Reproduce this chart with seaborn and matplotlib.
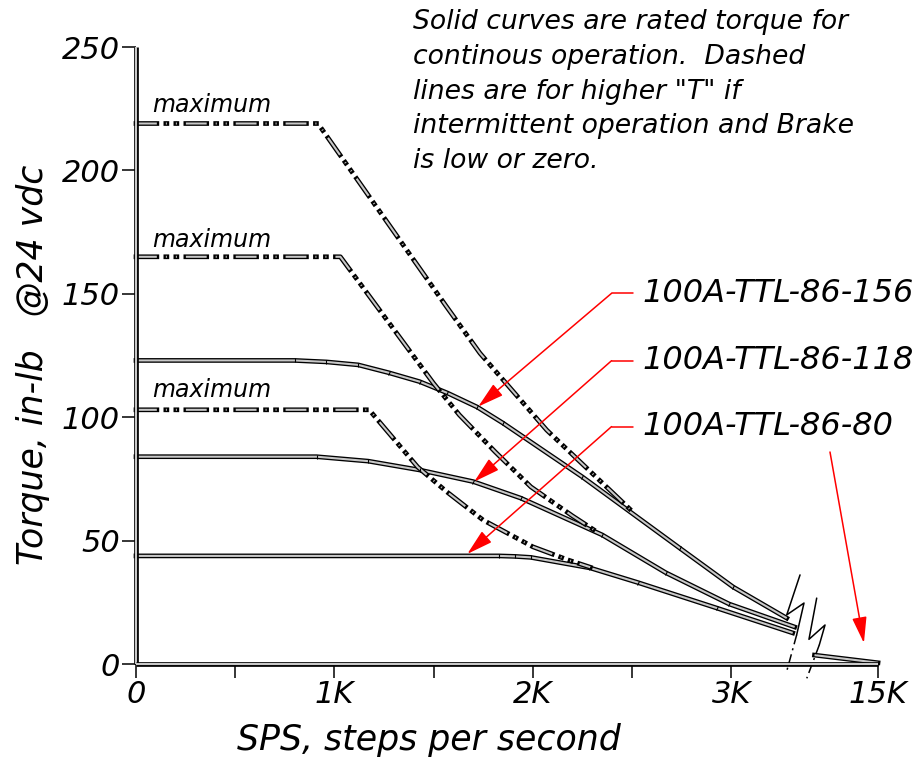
import numpy as np
import pandas as pd
import matplotlib
matplotlib.use('Agg')
import matplotlib.pyplot as plt
import matplotlib.patheffects as pe
from matplotlib.markers import MarkerStyle
from matplotlib.transforms import Affine2D
import seaborn as sns

# speed in thousands of steps per second, torque in in-lb
# solid curves: rated torque, continuous operation
SPS_156 = [0, 0.80, 0.96, 1.12, 1.275, 1.43, 1.57, 1.72, 1.85, 2.25, 2.74, 3.01, 3.28]
TQ_156 = [123, 123, 122.4, 121.2, 118, 114.4, 109.8, 104.1, 97.6, 75.8, 47, 31.2, 18.6]
SPS_118 = [0, 0.91, 1.17, 1.43, 1.70, 1.94, 2.35, 2.67, 2.99, 3.32]
TQ_118 = [84, 84, 82.2, 78.6, 73.9, 67.2, 52.3, 37, 24.3, 15]
SPS_80 = [0, 1.83, 1.91, 1.99, 2.29, 2.53, 2.93, 3.31]
TQ_80 = [43.8, 43.8, 43.6, 43.2, 38.9, 33, 22.6, 12.6]

# dashed curves: "maximum" torque, intermittent operation
SPS_156_MAX = [0, 0.917, 1.565, 1.734, 2.07, 2.52]
TQ_156_MAX = [219, 219, 144.8, 125.9, 94.8, 60.4]
SPS_118_MAX = [0, 1.03, 1.50, 1.63, 1.81, 1.99, 2.20, 2.33]
TQ_118_MAX = [165, 165, 113.7, 100.9, 86, 71.8, 60, 53.2]
SPS_80_MAX = [0, 1.175, 1.42, 1.566, 1.75, 2.0, 2.18, 2.29]
TQ_80_MAX = [103, 103, 79.8, 69.8, 58.3, 47.5, 42.1, 39.2]

# tail after the axis break, running out to 15K
SPS_TAIL = [3.42, 3.74]
TQ_TAIL = [3.6, 0.5]

MODELS = ['100A-TTL-86-156', '100A-TTL-86-118', '100A-TTL-86-80']
ARROW_TIPS = [(1.725, 104.3), (1.705, 73.9), (1.670, 44.6)]
LABEL_Y = [150.2, 122.9, 96.2]
MAX_LABEL_Y = [226.5, 172, 111]

XTICKS = [0, 1, 2, 3, 3.74]
XTICK_LABELS = ['0', '1K', '2K', '3K', '15K']
XMINOR = [0.5, 1.5, 2.5]
YTICKS = [0, 50, 100, 150, 200, 250]

rows = []
for model, xs, ys in zip(MODELS, [SPS_156, SPS_118, SPS_80], [TQ_156, TQ_118, TQ_80]):
    rows += [(model, 'rated', x, y) for x, y in zip(xs, ys)]
for model, xs, ys in zip(MODELS, [SPS_156_MAX, SPS_118_MAX, SPS_80_MAX],
                         [TQ_156_MAX, TQ_118_MAX, TQ_80_MAX]):
    rows += [(model, 'max', x, y) for x, y in zip(xs, ys)]
rows += [('tail', 'rated', x, y) for x, y in zip(SPS_TAIL, TQ_TAIL)]
df = pd.DataFrame(rows, columns=['model', 'kind', 'sps', 'torque'])

sns.set_theme(style='white')
plt.rcParams['font.family'] = ['DejaVu Sans']
plt.rcParams['font.style'] = 'italic'
plt.rcParams['text.color'] = 'black'
plt.rcParams['lines.scale_dashes'] = False

INNER = '#c8c8c8'
DASH = (0, (15, 6.5, 0.7, 6.5, 0.7, 6.5))
outline = [pe.Stroke(linewidth=3.4, foreground='black', capstyle='projecting'), pe.Normal()]

fig = plt.figure(figsize=(9.15, 7.62), dpi=100)
ax = fig.add_axes([136 / 915, 1 - 664 / 762, 742 / 915, 617 / 762])
ax.set_xlim(0, 3.74)
ax.set_ylim(0, 250)

solid_lines = []
for (model, kind), grp in df.groupby(['model', 'kind'], sort=False):
    sns.lineplot(data=grp, x='sps', y='torque', sort=False, estimator=None,
                 color=INNER, lw=1.5, legend=False, ax=ax)
    line = ax.lines[-1]
    line.set_clip_on(False)
    line.set_solid_capstyle('butt')
    line.set_dash_capstyle('butt')
    if kind == 'max':
        line.set_linestyle(DASH)
    else:
        solid_lines.append(grp)
    line.set_path_effects(outline)

# little node marks along the solid curves
for grp in solid_lines:
    pts = ax.transData.transform(grp[['sps', 'torque']].to_numpy())
    for i in range(1, len(pts) - 1):
        d = pts[i + 1] - pts[i - 1]
        ang = np.degrees(np.arctan2(d[1], d[0]))
        m = MarkerStyle('|', transform=Affine2D().rotate_deg(ang))
        ax.plot(grp['sps'].iloc[i], grp['torque'].iloc[i], marker=m, ms=3.2,
                mew=0.8, color='black', clip_on=False, zorder=3)

# axis break marks
brk_kw = dict(color='black', lw=1.1, clip_on=False)
ax.plot([3.347, 3.280, 3.367, 3.330], [36.1, 19.9, 24.7, 11.8], **brk_kw)
ax.plot([3.330, 3.279], [11.8, -3.2], ls=(0, (7, 3, 1.5, 3)), **brk_kw)
ax.plot([3.431, 3.392, 3.473, 3.444], [26.7, 10.0, 15.8, 7.7], **brk_kw)
ax.plot([3.444, 3.381], [7.7, -5.8], ls=(0, (7, 3, 1.5, 3)), **brk_kw)

# "maximum" labels over the dashed curves
for y in MAX_LABEL_Y:
    ax.text(0.08, y, 'maximum', fontsize=17, ha='left', va='center')

# red call-outs for each motor
red = '#ff0000'
head = '-|>,head_length=1.0,head_width=0.28'
for model, (tx, ty), ly in zip(MODELS, ARROW_TIPS, LABEL_Y):
    ax.plot([2.397, 2.506], [ly, ly], color=red, lw=1.1)
    ax.annotate('', xy=(tx, ty), xytext=(2.397, ly),
                arrowprops=dict(arrowstyle=head, mutation_scale=16, color=red,
                                lw=1.1, shrinkA=0, shrinkB=0))
    ax.text(2.555, ly, model, fontsize=23, ha='left', va='center')
ax.annotate('', xy=(3.669, 8.5), xytext=(3.498, 85.9),
            arrowprops=dict(arrowstyle=head, mutation_scale=16, color=red,
                            lw=1.1, shrinkA=0, shrinkB=0), annotation_clip=False)

fig.text(413 / 915, 1 - 9 / 762,
         'Solid curves are rated torque for\n'
         'continous operation.  Dashed\n'
         'lines are for higher "T" if\n'
         'intermittent operation and Brake\n'
         'is low or zero.',
         fontsize=19.2, ha='left', va='top', linespacing=1.44)

# axes drawn as double lines
for side in ['top', 'right']:
    ax.spines[side].set_visible(False)
for side in ['left', 'bottom']:
    sp = ax.spines[side]
    sp.set_color(INNER)
    sp.set_linewidth(1.5)
    sp.set_capstyle('butt')
    sp.set_path_effects([pe.Stroke(linewidth=3.4, foreground='black'), pe.Normal()])

ax.set_xticks(XTICKS)
ax.set_xticklabels(XTICK_LABELS)
ax.set_xticks(XMINOR, minor=True)
ax.set_yticks(YTICKS)
ax.set_yticklabels([str(v) for v in YTICKS])
ax.tick_params(axis='both', which='both', direction='out', length=10, width=1.1,
               color='black', labelsize=22, labelcolor='black', pad=1.5,
               bottom=True, left=True)
ax.tick_params(axis='y', which='minor', left=False)
ax.grid(False)
ax.set_xlabel('')
ax.set_ylabel('')

fig.text(429 / 915, 1 - 740 / 762, 'SPS, steps per second', fontsize=25,
         ha='center', va='center')
fig.text(33 / 915, 1 - 365 / 762, 'Torque, in-lb   @24 vdc', fontsize=25,
         ha='center', va='center', rotation=90)

fig.savefig('out.png', dpi=100, facecolor='white')
